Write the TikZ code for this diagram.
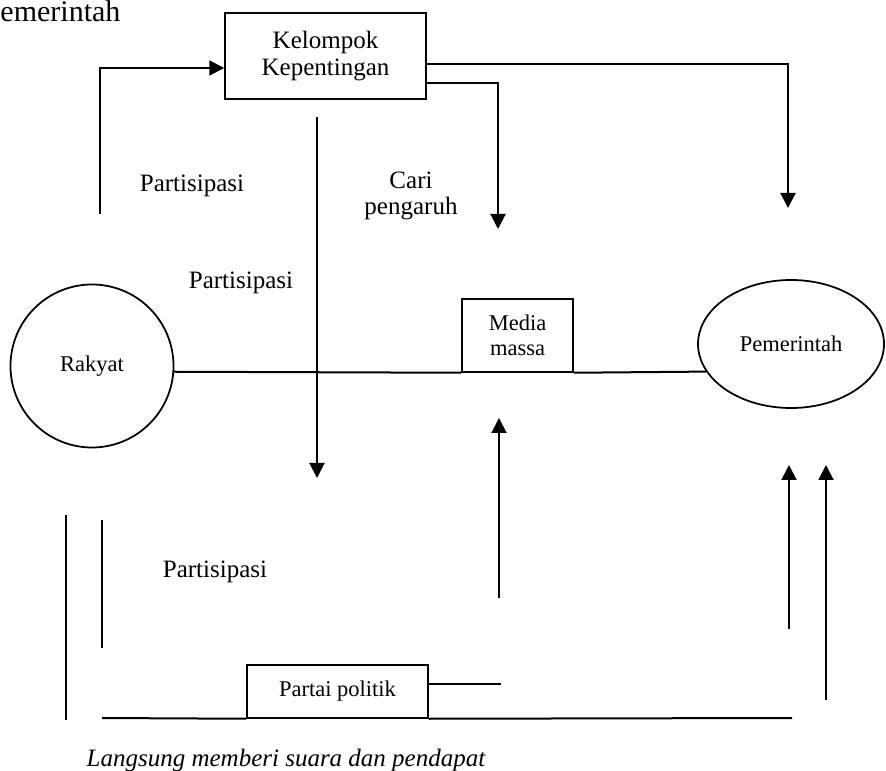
\documentclass[tikz,border=0pt]{standalone}
\usepackage{fontspec}
\setmainfont{Liberation Serif}
\usetikzlibrary{arrows.meta,calc,shapes.geometric}

\begin{document}
\begin{tikzpicture}[x=0.4pt, y=-0.4pt, >={Triangle[length=6pt,width=6pt]}]
\tikzset{wire/.style={line width=0.8pt}, flow/.style={wire, ->},
  box/.style={draw, line width=0.6pt, rectangle, inner sep=0pt, align=center, font=\fontsize{9}{10}\selectfont},
  lbl/.style={inner sep=0pt, align=center, font=\fontsize{10}{10.5}\selectfont}}
\useasboundingbox (0,0) rectangle (886,771);

% nodes (px)
\node[anchor=base west, inner sep=0pt, font=\fontsize{12}{14}\selectfont] (title) at (0,22) {emerintah};
\node[box, minimum width=80.4pt, minimum height=34.4pt, font=\fontsize{10}{10.5}\selectfont] (kelompok) at (325.5,56) {Kelompok\\Kepentingan};
\node[box, minimum width=44.4pt, minimum height=29.2pt] (media) at (517.5,335.5) {Media\\massa};
\node[box, minimum width=72.4pt, minimum height=21.2pt] (partai) at (337.5,691.5) {Partai politik};
\node[draw, circle, line width=0.7pt, minimum size=65.2pt, inner sep=0pt, font=\fontsize{9}{10}\selectfont] (rakyat) at (92,366) {Rakyat};
\node[draw, ellipse, line width=0.7pt, minimum width=74.4pt, minimum height=51.2pt, inner sep=0pt, font=\fontsize{9}{10}\selectfont] (pemerintah) at (791,344) {Pemerintah};

% labels
\node[lbl] (part1) at (192,186) {Partisipasi};
\node[lbl] (part2) at (241,283) {Partisipasi};
\node[lbl] (part3) at (215,572) {Partisipasi};
\node[lbl] (cari) at (411,196) {Cari\\pengaruh};
\node[anchor=base, inner sep=0pt, font=\fontsize{10}{12}\selectfont\itshape] (langsung) at (286,766) {Langsung memberi suara dan pendapat};

% free ends
\coordinate (rUp)    at (100,214);
\coordinate (pTop)   at (317,117);
\coordinate (pTip)   at (317,478);
\coordinate (cTip)   at (498,229);
\coordinate (gTip)   at (788,208);
\coordinate (mBase)  at (499,598);
\coordinate (mTip)   at (499,418);
\coordinate (g1Base) at (789,629);
\coordinate (g1Tip)  at (789,465);
\coordinate (g2Base) at (826,700);
\coordinate (g2Tip)  at (826,465);
\coordinate (vA1)    at (66,515);
\coordinate (vA2)    at (66,720);
\coordinate (vB1)    at (102,520);
\coordinate (vB2)    at (102,648);
\coordinate (bL)     at (102,718);
\coordinate (bR)     at (792,718);
\coordinate (pEnd)   at (501,684);

% connectors
\draw[flow] (rUp) |- ($(kelompok.west)+(0,12)$);
\draw[flow] ($(kelompok.east)+(0,8)$) -| (gTip);
\draw[flow] ($(kelompok.east)+(0,27)$) -| (cTip);
\draw[flow] (pTop) -- (pTip);
\draw[wire] (rakyat.-4) -- (media.south west);
\draw[wire] (media.south east) -- (pemerintah.198.5);
\draw[flow] (mBase) -- (mTip);
\draw[flow] (g1Base) -- (g1Tip);
\draw[flow] (g2Base) -- (g2Tip);
\draw[wire] (vA1) -- (vA2);
\draw[wire] (vB1) -- (vB2);
\draw[wire] (bL) -- (partai.south west);
\draw[wire] (partai.south east) -- (bR);
\draw[wire] ($(partai.east)+(0,-7.5)$) -- (pEnd);
\end{tikzpicture}
\end{document}
